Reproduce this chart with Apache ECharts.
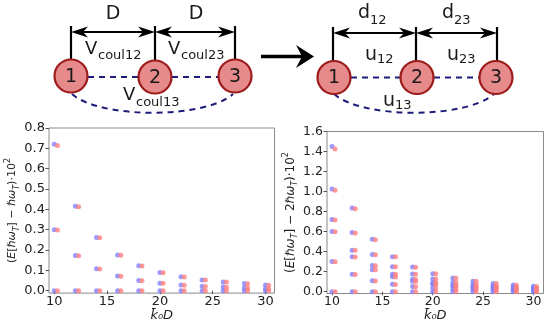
<!DOCTYPE html>
<html>
<head>
<meta charset="utf-8">
<script src="https://cdn.jsdelivr.net/npm/echarts@6/dist/echarts.min.js"></script>
<style>
html,body{margin:0;padding:0;background:#fff;}
#chart{width:550px;height:331px;}
</style>
</head>
<body>
<div id="chart"></div>
<script>
// ---- data ----
const kD = [10, 12, 14, 16, 18, 20, 22, 24, 26, 28, 30];
const kDRed = [10.3, 12.3, 14.3, 16.3, 18.3, 20.3, 22.3, 24.3, 26.3, 28.3, 30.3];

// left panel: (E[hw_T] - hw_T)*10^2
const leftBlue1 = [0.720, 0.415, 0.262, 0.175, 0.122, 0.089, 0.068, 0.053, 0.043, 0.035, 0.028];
const leftBlue2 = [0.300, 0.173, 0.108, 0.072, 0.050, 0.037, 0.028, 0.022, 0.018, 0.014, 0.011];
const leftBlue3 = [0, 0, 0, 0, 0, 0, 0, 0, 0, 0, 0];
const leftRed1 = [0.714, 0.413, 0.260, 0.174, 0.121, 0.088, 0.067, 0.052, 0.042, 0.034, 0.027];
const leftRed2 = [0.298, 0.172, 0.107, 0.071, 0.049, 0.036, 0.027, 0.021, 0.017, 0.013, 0.010];
const leftRed3 = [0, 0, 0, 0, 0, 0, 0, 0, 0, 0, 0];

// right panel: (E[hw_T] - 2hw_T)*10^2
const rightBlue1 = [1.450, 0.835, 0.525, 0.350, 0.247, 0.180, 0.136, 0.105, 0.083, 0.066, 0.054];
const rightBlue2 = [1.025, 0.592, 0.372, 0.250, 0.176, 0.128, 0.096, 0.074, 0.058, 0.047, 0.038];
const rightBlue3 = [0.722, 0.415, 0.262, 0.175, 0.124, 0.090, 0.068, 0.053, 0.042, 0.034, 0.027];
const rightBlue4 = [0.602, 0.350, 0.220, 0.150, 0.104, 0.075, 0.056, 0.043, 0.034, 0.028, 0.022];
const rightBlue5 = [0.302, 0.175, 0.110, 0.074, 0.052, 0.037, 0.028, 0.022, 0.017, 0.014, 0.011];
const rightBlue6 = [0, 0, 0, 0, 0, 0, 0, 0, 0, 0, 0];
const rightRed1 = [1.425, 0.828, 0.520, 0.348, 0.245, 0.179, 0.135, 0.104, 0.082, 0.065, 0.053];
const rightRed2 = [1.012, 0.587, 0.368, 0.248, 0.174, 0.127, 0.095, 0.073, 0.057, 0.046, 0.037];
const rightRed3 = [0.716, 0.413, 0.260, 0.174, 0.122, 0.089, 0.067, 0.052, 0.041, 0.033, 0.027];
const rightRed4 = [0.598, 0.347, 0.218, 0.148, 0.102, 0.074, 0.055, 0.042, 0.033, 0.027, 0.021];
const rightRed5 = [0.298, 0.173, 0.108, 0.072, 0.050, 0.036, 0.027, 0.021, 0.016, 0.013, 0.010];
const rightRed6 = [0, 0, 0, 0, 0, 0, 0, 0, 0, 0, 0];

const xTicks = [10, 15, 20, 25, 30];
const leftYTicks = [0, 0.1, 0.2, 0.3, 0.4, 0.5, 0.6, 0.7, 0.8];
const rightYTicks = [0, 0.2, 0.4, 0.6, 0.8, 1.0, 1.2, 1.4, 1.6];

// ---- build ----
function pairs(xs, levels) {
  const out = [];
  levels.forEach(lv => lv.forEach((v, i) => out.push([xs[i], v])));
  return out;
}
const FONT = 'DejaVu Sans';
const BLUE = '#7f7fff', RED = '#ff7f7f';

const nameRich = {
  t: {fontSize: 11, fontStyle: 'italic', fontFamily: FONT, color: '#222', lineHeight: 13, verticalAlign: 'top', padding: [3, 0, 0, 0]},
  n: {fontSize: 11, fontFamily: FONT, color: '#222', lineHeight: 13, verticalAlign: 'top', padding: [3, 0, 0, 0]},
  s: {fontSize: 8, fontStyle: 'italic', fontFamily: FONT, color: '#222', lineHeight: 8, verticalAlign: 'top', padding: [9, 0, 0, 0]},
  p: {fontSize: 8, fontFamily: FONT, color: '#222', lineHeight: 8, verticalAlign: 'top', padding: [0, 0, 0, 0]}
};

function xAxisCfg(grid, min, max, fs) {
  return {
    type: 'value', gridIndex: grid, min: min, max: max,
    name: 'k\u0304\u2080D', nameLocation: 'middle', nameGap: 11,
    nameTextStyle: {fontFamily: FONT, fontSize: 13, fontStyle: 'italic', color: '#222'},
    axisLine: {show: false},
    axisTick: {show: true, customValues: xTicks, length: 3.5, lineStyle: {color: '#555'}},
    axisLabel: {customValues: xTicks, fontFamily: FONT, fontSize: fs, color: '#222', margin: 2},
    splitLine: {show: false}
  };
}
function yAxisCfg(grid, min, max, ticks, name, gap, fs, lfs) {
  const rich = JSON.parse(JSON.stringify(nameRich));
  rich.t.fontSize = fs; rich.n.fontSize = fs;
  return {
    type: 'value', gridIndex: grid, min: min, max: max,
    name: name, nameLocation: 'middle', nameGap: gap, nameRotate: 90,
    nameTextStyle: {rich: rich},
    axisLine: {show: false},
    axisTick: {show: true, customValues: ticks, length: 3.5, lineStyle: {color: '#555'}},
    axisLabel: {customValues: ticks, formatter: v => v.toFixed(1), fontFamily: FONT, fontSize: lfs, color: '#222', margin: 4},
    splitLine: {show: false}
  };
}
function scatter(xi, yi, data, color) {
  return {type: 'scatter', xAxisIndex: xi, yAxisIndex: yi, data: data, symbolSize: 5,
    itemStyle: {color: color}, silent: true, animation: false};
}

// ---- diagram (top) ----
const NAVY = '#1c1c7a', DARKRED = '#9c1c1c', FILL = '#e68a8c';
const g = [];
function vline(x, y1, y2) { g.push({type: 'line', shape: {x1: x, y1: y1, x2: x, y2: y2}, style: {stroke: '#000', lineWidth: 2.2}, z: 10}); }
function head(tipX, y, dir) {
  const L = 17, H = 5.5, N = 12;
  g.push({type: 'polygon', shape: {points: [[tipX, y], [tipX - dir * L, y - H], [tipX - dir * N, y], [tipX - dir * L, y + H]]}, style: {fill: '#000'}, z: 11});
}
function dblArrow(x1, x2, y) {
  g.push({type: 'line', shape: {x1: x1 + 6, y1: y, x2: x2 - 6, y2: y}, style: {stroke: '#000', lineWidth: 2}, z: 10});
  head(x1, y, -1); head(x2, y, 1);
}
function dash(x1, y1, x2, y2) { g.push({type: 'line', shape: {x1: x1, y1: y1, x2: x2, y2: y2}, style: {stroke: NAVY, lineWidth: 2, lineDash: [6, 5]}, z: 5}); }
function arc(x1, x2, y, cy) {
  g.push({type: 'bezierCurve', shape: {x1: x1, y1: y, x2: x2, y2: y, cpx1: x1 + 28, cpy1: cy, cpx2: x2 - 28, cpy2: cy},
    style: {stroke: NAVY, lineWidth: 2, lineDash: [6, 5], fill: null}, z: 5});
}
function node(cx, cy, label) {
  g.push({type: 'circle', shape: {cx: cx, cy: cy, r: 16.5}, style: {fill: FILL, stroke: DARKRED, lineWidth: 2.2}, z: 20});
  g.push({type: 'text', x: cx, y: cy + 1, style: {text: label, fill: '#1a1a1a', font: '19px "DejaVu Sans"', align: 'center', verticalAlign: 'middle', textAlign: 'center', textVerticalAlign: 'middle'}, z: 21});
}
function txt(x, y, s, fs) {
  g.push({type: 'text', x: x, y: y, style: {text: s, fill: '#1a1a1a', font: fs + 'px "DejaVu Sans"', align: 'left', verticalAlign: 'middle', textAlign: 'left', textVerticalAlign: 'middle'}, z: 21});
}
function txtC(x, y, s, fs) {
  g.push({type: 'text', x: x, y: y, style: {text: s, fill: '#1a1a1a', font: fs + 'px "DejaVu Sans"', align: 'center', verticalAlign: 'middle', textAlign: 'center', textVerticalAlign: 'middle'}, z: 21});
}
// left diagram
vline(71, 26, 61); vline(155, 26, 61); vline(235, 26, 61);
dblArrow(71, 155, 32); dblArrow(155, 235, 32);
dash(88, 77, 139, 77); dash(172, 77, 219, 77);
arc(72, 233, 94, 119);
node(71, 76, '1'); node(155, 77, '2'); node(235, 76, '3');
txtC(113, 14, 'D', 19); txtC(196, 14, 'D', 19);
txt(85, 49, 'V', 18); txt(98, 56, 'coul12', 13);
txt(168, 49, 'V', 18); txt(181, 56, 'coul23', 13);
txt(123, 95.5, 'V', 18); txt(136, 103, 'coul13', 13);
// big arrow
g.push({type: 'line', shape: {x1: 261, y1: 56.5, x2: 306, y2: 56.5}, style: {stroke: '#000', lineWidth: 3.5}, z: 10});
g.push({type: 'polygon', shape: {points: [[314, 56.5], [296, 45], [302, 56.5], [296, 68]]}, style: {fill: '#000'}, z: 11});
// right diagram
vline(333, 27, 62); vline(416, 27, 62); vline(497, 27, 62);
dblArrow(333, 416, 33); dblArrow(416, 497, 33);
dash(351, 77.5, 400, 77.5); dash(434, 77.5, 480, 77.5);
arc(334, 494, 94, 119);
node(334, 77.5, '1'); node(417, 77.5, '2'); node(496, 77.5, '3');
txt(358, 13.5, 'd', 19); txt(370, 21, '12', 13);
txt(442, 13.5, 'd', 19); txt(454, 21, '23', 13);
txt(365, 55, 'u', 19); txt(377, 60, '12', 13);
txt(447, 55, 'u', 19); txt(459, 60, '23', 13);
txt(383, 101, 'u', 19); txt(395, 105.5, '13', 13);

const option = {
  backgroundColor: '#fff',
  animation: false,
  grid: [
    {left: 49, top: 128, width: 225.5, height: 167, show: true, borderColor: '#8a8a8a', borderWidth: 1, backgroundColor: 'transparent', containLabel: false},
    {left: 327, top: 131.5, width: 216.5, height: 162, show: true, borderColor: '#8a8a8a', borderWidth: 1, backgroundColor: 'transparent', containLabel: false}
  ],
  xAxis: [xAxisCfg(0, 9.5, 30.85, 13), xAxisCfg(1, 9.5, 31.0, 12.5)],
  yAxis: [
    yAxisCfg(0, -0.012, 0.8, leftYTicks, '{n|(}{t|E}{n|[}{t|\u210F\u03C9}{s|T}{n|] \u2212 }{t|\u210F\u03C9}{s|T}{n|)\u00B710}{p|2}', 30, 11, 13),
    yAxisCfg(1, -0.018, 1.6, rightYTicks, '{n|(}{t|E}{n|[}{t|\u210F\u03C9}{s|T}{n|] \u2212 2}{t|\u210F\u03C9}{s|T}{n|)\u00B710}{p|2}', 24, 12, 12.5)
  ],
  series: [
    scatter(0, 0, pairs(kD, [leftBlue1, leftBlue2, leftBlue3]), BLUE),
    scatter(0, 0, pairs(kDRed, [leftRed1, leftRed2, leftRed3]), RED),
    scatter(1, 1, pairs(kD, [rightBlue1, rightBlue2, rightBlue3, rightBlue4, rightBlue5, rightBlue6]), BLUE),
    scatter(1, 1, pairs(kDRed, [rightRed1, rightRed2, rightRed3, rightRed4, rightRed5, rightRed6]), RED)
  ],
  graphic: {elements: g}
};
const chart = echarts.init(document.getElementById('chart'), null, {renderer: 'canvas'});
chart.setOption(option);
</script>
</body>
</html>
